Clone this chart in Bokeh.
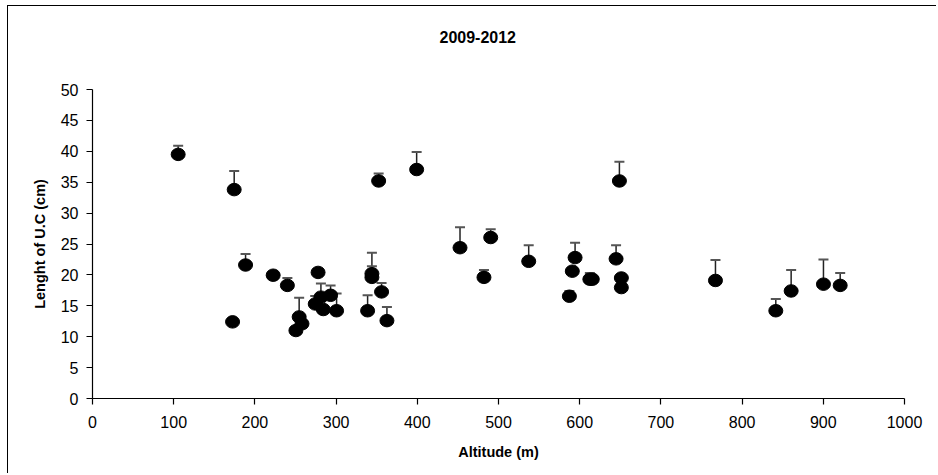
from bokeh.plotting import figure
from bokeh.models import ColumnDataSource, Title, Range1d
from bokeh.embed import file_html
from bokeh.resources import INLINE

# ---- data ----
altitude = [105.5, 174.5, 172.5, 188.5, 222.5, 240.0, 250.5, 254.5, 258.0, 277.8,
            274.3, 281.3, 284.2, 293.2, 300.6, 338.8, 344.1, 344.1, 352.4, 356.0,
            362.6, 399.2, 452.6, 482.1, 490.4, 537.2, 587.3, 590.9, 594.3, 612.5,
            615.5, 644.8, 648.9, 651.3, 651.3, 767.2, 841.5, 860.4, 900.2, 920.8]
length_uc = [39.5, 33.8, 12.4, 21.6, 19.95, 18.3, 11.0, 13.2, 12.1, 20.4,
             15.3, 16.4, 14.4, 16.7, 14.2, 14.2, 20.2, 19.6, 35.2, 17.25,
             12.6, 37.05, 24.4, 19.6, 26.05, 22.2, 16.55, 20.6, 22.8, 19.3,
             19.3, 22.6, 35.2, 19.5, 17.95, 19.1, 14.2, 17.4, 18.5, 18.3]
upper_err = [40.9, 36.8, 12.9, 23.4, 20.4, 19.5, 11.5, 16.3, 12.5, 20.9,
             16.6, 18.6, 14.9, 18.3, 17.0, 16.7, 23.6, 21.4, 36.4, 18.7,
             14.8, 39.9, 27.7, 20.8, 27.4, 24.8, 17.4, 21.1, 25.2, 20.3,
             19.8, 24.8, 38.3, 20.0, 18.4, 22.4, 16.1, 20.8, 22.5, 20.3]
x_ticks = [0, 100, 200, 300, 400, 500, 600, 700, 800, 900, 1000]
y_ticks = [0, 5, 10, 15, 20, 25, 30, 35, 40, 45, 50]
title_text = "2009-2012"
x_label = "Altitude (m)"
y_label = "Lenght of U.C (cm)"

FONT = "Liberation Sans"

src = ColumnDataSource(dict(x=altitude, y=length_uc, up=upper_err))

p = figure(width=929, height=468, output_backend="svg", toolbar_location=None,
           x_range=Range1d(0, 1000), y_range=Range1d(0, 50),
           min_border_left=84, min_border_right=33, min_border_top=83,
           min_border_bottom=76)
p.styles = {"margin-left": "7px", "margin-top": "5px",
            "border-left": "1.5px solid #000", "border-top": "1.5px solid #000"}
p.outline_line_color = None
p.background_fill_color = "white"
p.border_fill_color = "white"
p.grid.visible = False

# empty spacer title between the frame and the real title
spacer = Title(text=" ", align="left", standoff=18,
               text_font=FONT, text_font_size="20px", text_color="white")
p.add_layout(spacer, "above")
t = Title(text=title_text, align="left", offset=347, standoff=10,
          text_font=FONT, text_font_size="16px", text_font_style="bold",
          text_color="black")
p.add_layout(t, "above")

for ax in (p.xaxis[0], p.yaxis[0]):
    ax.axis_line_color = "black"
    ax.axis_line_width = 1.2
    ax.major_tick_line_color = "black"
    ax.major_tick_line_width = 1.2
    ax.major_tick_out = 6
    ax.major_tick_in = 0
    ax.minor_tick_line_color = None
    ax.major_label_text_font = FONT
    ax.major_label_text_font_size = "16px"
    ax.major_label_text_color = "black"
    ax.axis_label_text_font = FONT
    ax.axis_label_text_font_size = "14.5px"
    ax.axis_label_text_font_style = "bold"
    ax.axis_label_text_color = "black"

p.xaxis.ticker = x_ticks
p.yaxis.ticker = y_ticks
p.xaxis.axis_label = x_label
p.yaxis.axis_label = y_label
p.xaxis.major_label_standoff = 11
p.yaxis.major_label_standoff = 8
p.xaxis.axis_label_standoff = 13
p.yaxis.axis_label_standoff = 10

# error bars (upper only)
p.segment(x0="x", y0="y", x1="x", y1="up", source=src, line_color="#222", line_width=1.5)
p.scatter(x="x", y="up", source=src, marker="dash", size=10, line_color="#555", line_width=2)
# markers
p.ellipse(x="x", y="y", width=14, height=12.5, width_units="screen", height_units="screen",
          source=src, fill_color="black", line_color="black")

open("out.html", "w").write(file_html(p, INLINE))
